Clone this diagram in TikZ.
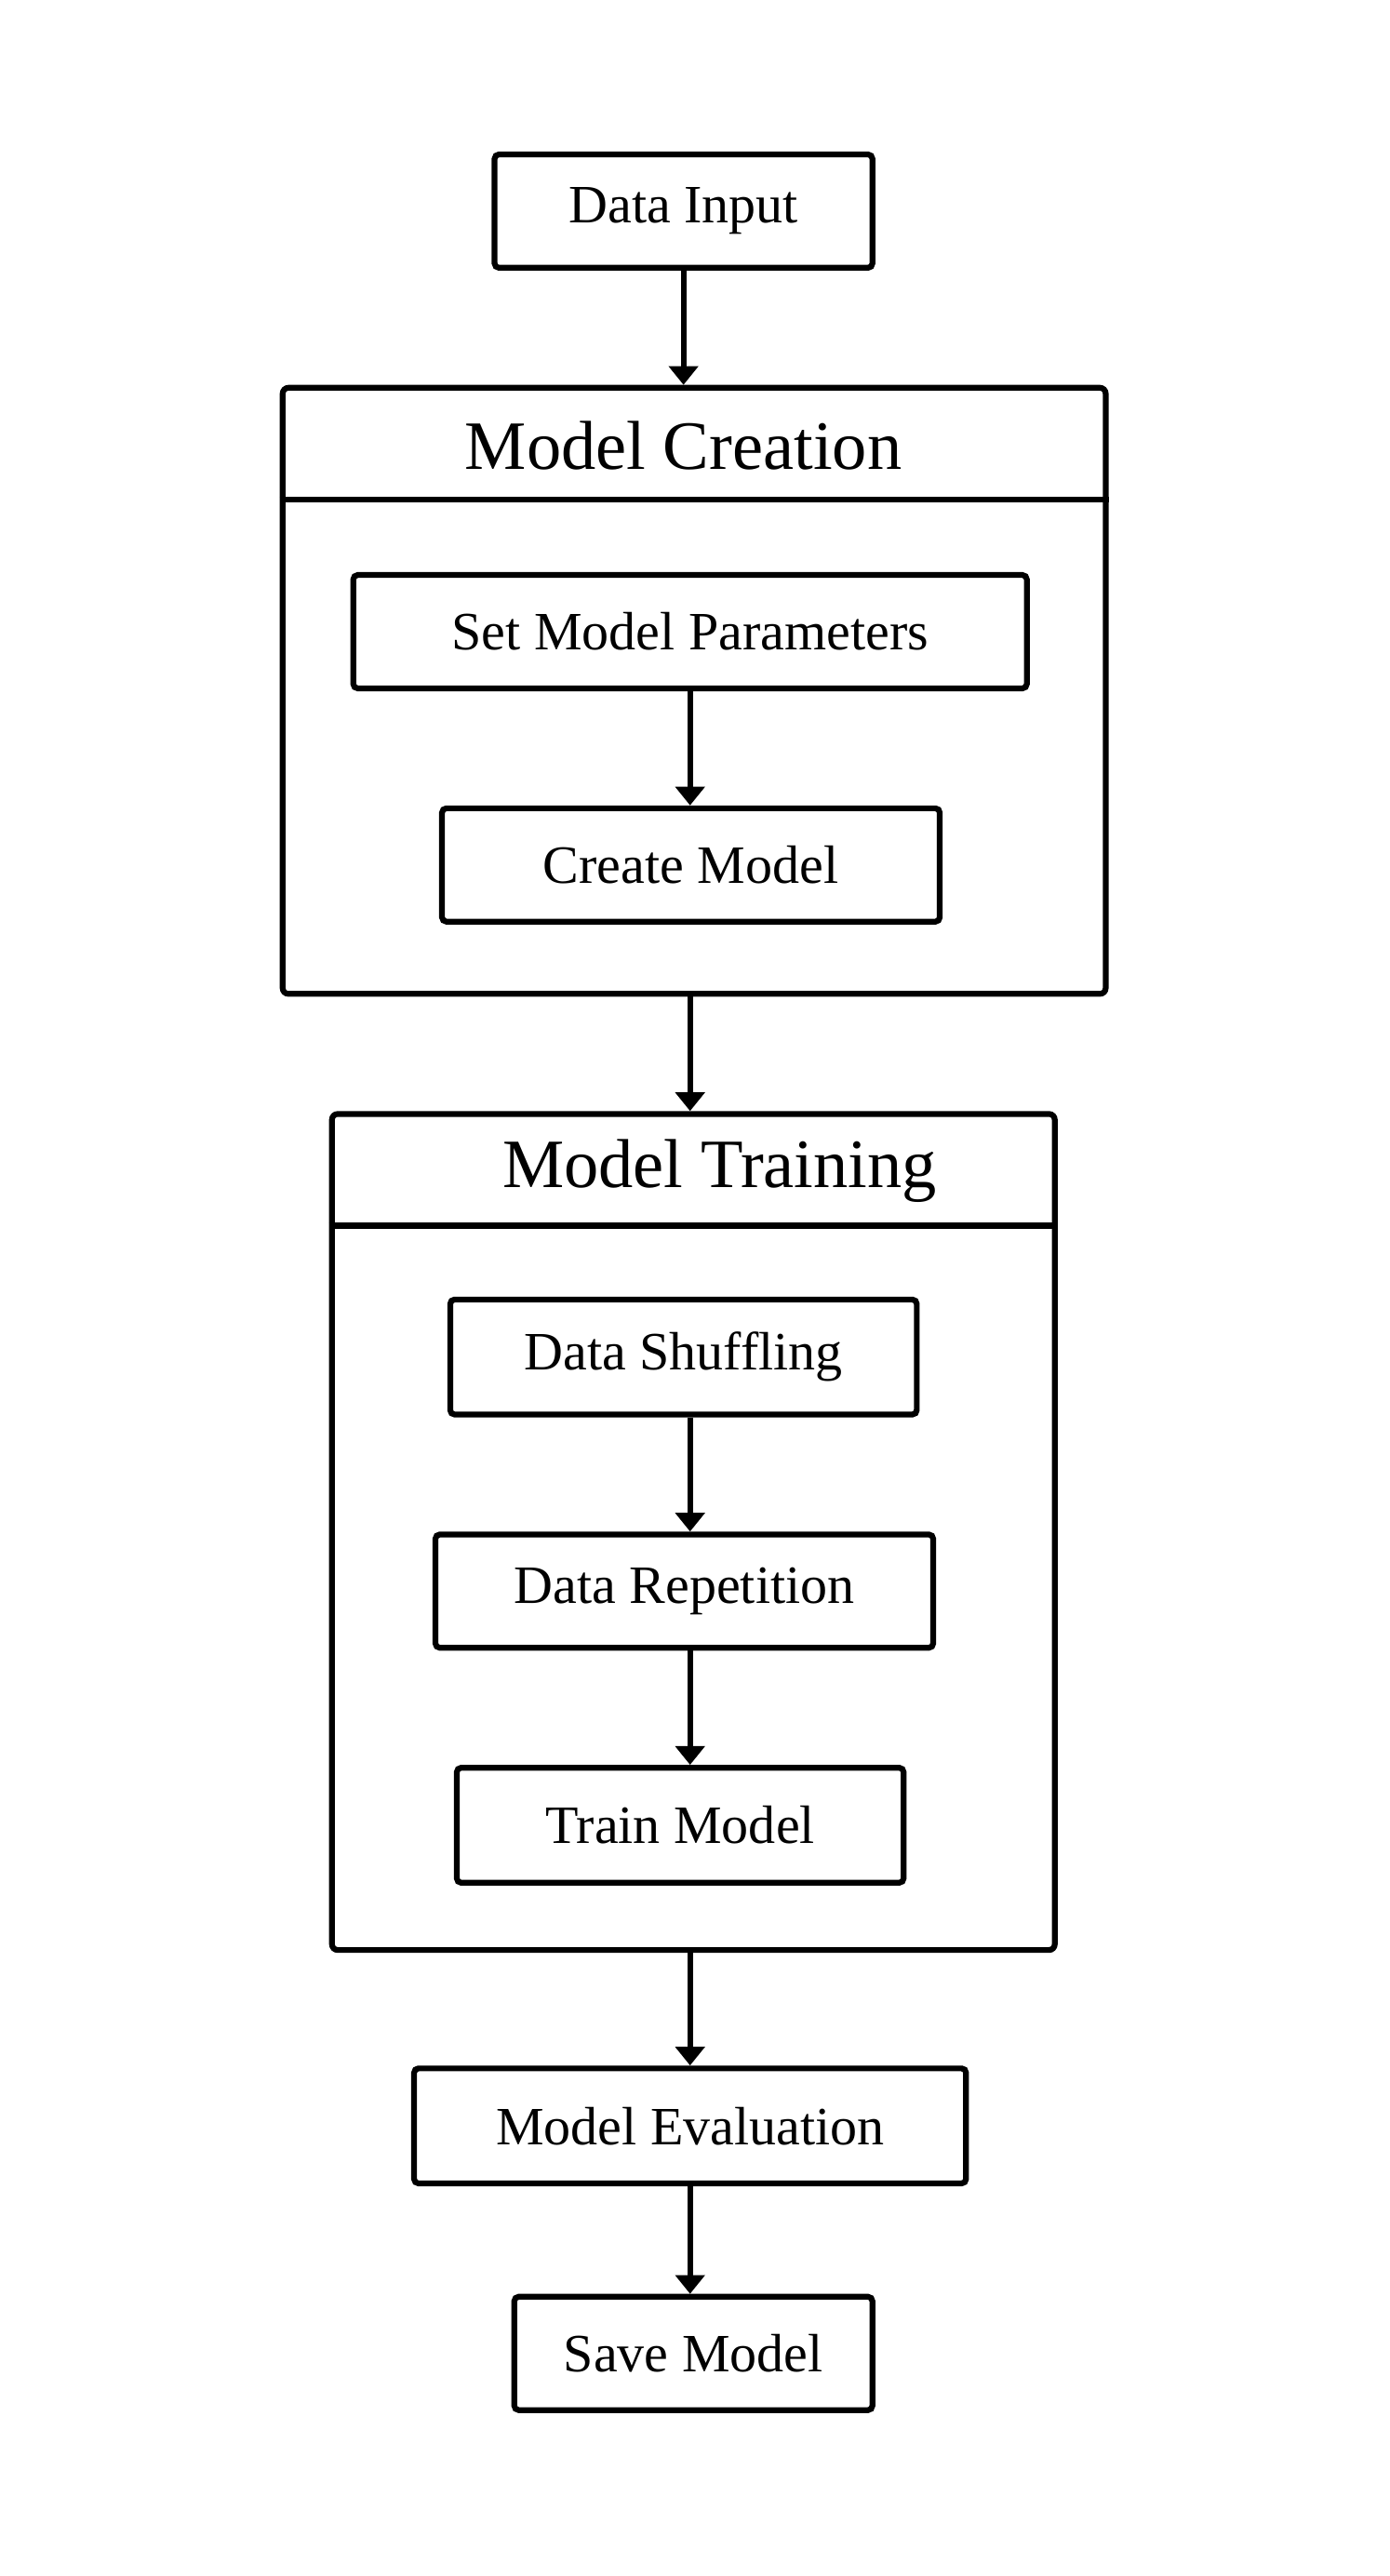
\documentclass[tikz,border=0pt]{standalone}
\usepackage{fontspec}
\setmainfont{Liberation Serif}
\usetikzlibrary{arrows.meta}
\tikzstyle{every path}=[line width=2pt]
\tikzstyle{stage}=[draw, rounded corners=1.5pt, inner sep=0pt, font=\fontsize{18.7}{22}\selectfont]
\tikzstyle{group}=[draw, rounded corners=2pt, inner sep=0pt]
\tikzstyle{grouptitle}=[inner sep=0pt, font=\fontsize{24}{28}\selectfont]
\tikzstyle{flow}=[-{Triangle[width=10pt,length=6.5pt]}]

\begin{document}
\begin{tikzpicture}[x=0.02cm, y=-0.02cm]
            \useasboundingbox (0, 0) rectangle (846, 1568);

            \node[stage, minimum width=4.6cm, minimum height=1.38cm] (input) at (416, 128.5) {Data Input};

            % model creation
            \node[group, minimum width=10.02cm, minimum height=7.38cm] (creation) at (422.5, 420.5) {};
            \node[grouptitle] (creationtitle) at (416, 271) {Model Creation};
            \coordinate (creationrule) at (0, 304);
            \draw (creation.west |- creationrule) -- (creation.east |- creationrule);
            \node[stage, minimum width=8.2cm, minimum height=1.38cm] (params) at (420, 384.5) {Set Model Parameters};
            \node[stage, minimum width=6.06cm, minimum height=1.38cm] (create) at (420.5, 526.5) {Create Model};

            % model training
            \node[group, minimum width=8.8cm, minimum height=10.18cm] (training) at (422, 932.5) {};
            \node[grouptitle] (trainingtitle) at (438, 713) {Model Training};
            \coordinate (trainingrule) at (0, 746);
            \draw (training.west |- trainingrule) -- (training.east |- trainingrule);
            \node[stage, minimum width=5.68cm, minimum height=1.4cm] (shuffle) at (416, 826) {Data Shuffling};
            \node[stage, minimum width=6.06cm, minimum height=1.38cm] (repeat) at (416.5, 968.5) {Data Repetition};
            \node[stage, minimum width=5.44cm, minimum height=1.4cm] (train) at (414, 1111) {Train Model};

            \node[stage, minimum width=6.72cm, minimum height=1.4cm] (evaluate) at (420, 1294) {Model Evaluation};
            \node[stage, minimum width=4.36cm, minimum height=1.38cm] (save) at (422, 1432.5) {Save Model};

            \draw[flow] (input.south) -- (input.south |- creation.north);
            \draw[flow] (params.south) -- (params.south |- create.north);
            \draw[flow] (creation.south -| params.south) -- (params.south |- training.north);
            \draw[flow] (shuffle.south -| params.south) -- (params.south |- repeat.north);
            \draw[flow] (repeat.south -| params.south) -- (params.south |- train.north);
            \draw[flow] (training.south -| params.south) -- (params.south |- evaluate.north);
            \draw[flow] (evaluate.south -| params.south) -- (params.south |- save.north);
        \end{tikzpicture}
\end{document}
